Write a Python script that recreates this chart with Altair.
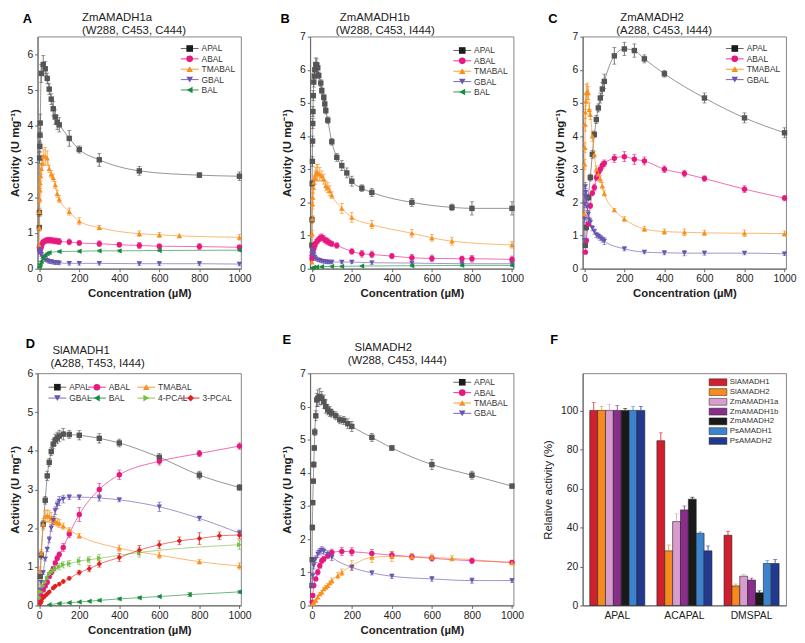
import altair as alt
import pandas as pd

FONT = "Liberation Sans"
XTICKS = [0, 200, 400, 600, 800, 1000]

COLORS = {"APAL": "#1c1c1c", "ABAL": "#e6197f", "TMABAL": "#f7901e", "GBAL": "#6a56b0",
          "BAL": "#178a3c", "4-PCAL": "#74c043", "3-PCAL": "#e0201e"}
LINECOL = {"APAL": "#555555", "ABAL": "#e6197f", "TMABAL": "#f7901e", "GBAL": "#6a56b0",
           "BAL": "#178a3c", "4-PCAL": "#74c043", "3-PCAL": "#e0201e"}
SHAPES = {"APAL": "square", "ABAL": "circle", "TMABAL": "triangle-up", "GBAL": "triangle-down",
          "BAL": "triangle-left", "4-PCAL": "triangle-right", "3-PCAL": "diamond"}

# ---------------- Panel A: ZmAMADH1a ----------------
A_APAL_x = [0.5, 1, 2, 3, 4, 5, 10, 20, 30, 40, 50, 60, 70, 80, 90, 100, 150, 200, 300, 500, 800, 1000]
A_APAL_y = [1.15, 1.57, 3.1, 3.43, 3.74, 4.08, 5.47, 5.72, 5.6, 5.33, 5.03, 4.75, 4.48, 4.25, 4.1, 4.03, 3.65, 3.34, 3.05, 2.74, 2.62, 2.59]
A_APAL_e = [0.05, 0.1, 0.15, 0.15, 0.2, 0.25, 0.25, 0.25, 0.2, 0.15, 0.15, 0.15, 0.2, 0.2, 0.2, 0.2, 0.22, 0.1, 0.18, 0.12, 0.07, 0.12]
A_TMABAL_x = [0.5, 1, 2, 3, 4, 5, 7.5, 10, 15, 20, 30, 40, 50, 60, 70, 80, 90, 100, 150, 200, 300, 500, 600, 700, 1000]
A_TMABAL_y = [0.65, 1.15, 1.6, 1.95, 2.2, 2.4, 2.6, 2.8, 2.95, 3.15, 3.15, 3.1, 2.8, 2.65, 2.55, 2.35, 2.1, 1.95, 1.6, 1.33, 1.15, 0.98, 0.95, 0.92, 0.88]
A_TMABAL_e = [0.05, 0.1, 0.1, 0.1, 0.1, 0.15, 0.15, 0.15, 0.2, 0.2, 0.25, 0.2, 0.1, 0.1, 0.1, 0.1, 0.1, 0.1, 0.1, 0.1, 0.06, 0.08, 0.07, 0.05, 0.08]
A_ABAL_x = [1, 2, 5, 10, 15, 20, 30, 40, 50, 60, 70, 80, 90, 100, 150, 200, 300, 400, 500, 600, 800, 1000]
A_ABAL_y = [0.6, 0.55, 0.5, 0.6, 0.7, 0.75, 0.78, 0.8, 0.8, 0.8, 0.78, 0.78, 0.77, 0.76, 0.75, 0.72, 0.7, 0.67, 0.65, 0.63, 0.62, 0.6]
A_ABAL_e = [0.05, 0.05, 0.05, 0.05, 0.08, 0.08, 0.08, 0.08, 0.08, 0.08, 0.08, 0.08, 0.08, 0.08, 0.08, 0.06, 0.08, 0.06, 0.08, 0.06, 0.08, 0.06]
A_GBAL_x = [1, 2, 5, 10, 15, 20, 30, 40, 50, 60, 70, 80, 90, 100, 150, 200, 300, 500, 600, 800, 1000]
A_GBAL_y = [0.45, 0.55, 0.5, 0.4, 0.33, 0.3, 0.25, 0.23, 0.2, 0.2, 0.18, 0.17, 0.17, 0.16, 0.15, 0.15, 0.15, 0.14, 0.14, 0.14, 0.13]
A_GBAL_e = [0.03, 0.05, 0.05, 0.05, 0.05, 0.05, 0.05, 0.05, 0.05, 0.05, 0.05, 0.05, 0.05, 0.05, 0.05, 0.05, 0.05, 0.05, 0.05, 0.06, 0.05]
A_BAL_x = [1, 5, 10, 20, 30, 40, 50, 100, 200, 300, 400, 600, 1000]
A_BAL_y = [0.05, 0.12, 0.2, 0.3, 0.38, 0.42, 0.45, 0.48, 0.49, 0.5, 0.5, 0.51, 0.52]
A_BAL_e = [0.01, 0.02, 0.02, 0.03, 0.03, 0.03, 0.03, 0.03, 0.03, 0.03, 0.03, 0.03, 0.03]

# ---------------- Panel B: ZmAMADH1b ----------------
B_APAL_x = [0.5, 1, 2, 3, 4, 5, 6, 7.5, 10, 12.5, 15, 20, 25, 30, 35, 45, 50, 60, 65, 70, 80, 100, 125, 150, 175, 200, 250, 300, 500, 700, 800, 1000]
B_APAL_y = [0.71, 1.48, 2.57, 3.24, 3.85, 4.38, 4.74, 5.22, 5.63, 5.81, 6.0, 6.16, 6.13, 6.06, 5.83, 5.6, 5.37, 5.17, 4.97, 4.77, 4.48, 3.83, 3.36, 3.11, 2.89, 2.64, 2.43, 2.3, 2.0, 1.85, 1.82, 1.82]
B_APAL_e = [0.05, 0.1, 0.1, 0.15, 0.15, 0.15, 0.15, 0.15, 0.15, 0.15, 0.2, 0.2, 0.2, 0.15, 0.1, 0.1, 0.1, 0.1, 0.1, 0.1, 0.1, 0.1, 0.12, 0.15, 0.15, 0.15, 0.1, 0.12, 0.12, 0.1, 0.2, 0.2]
B_TMABAL_x = [0.5, 1, 2, 3, 4, 5, 7.5, 10, 15, 20, 25, 30, 40, 50, 60, 70, 80, 90, 100, 150, 200, 300, 500, 600, 700, 1000]
B_TMABAL_y = [0.2, 0.55, 1.05, 1.5, 1.95, 2.15, 2.45, 2.6, 2.75, 2.85, 2.9, 2.9, 2.85, 2.8, 2.7, 2.5, 2.45, 2.35, 2.22, 1.82, 1.55, 1.33, 1.07, 0.93, 0.83, 0.72]
B_TMABAL_e = [0.05, 0.1, 0.1, 0.1, 0.15, 0.15, 0.2, 0.2, 0.2, 0.2, 0.25, 0.25, 0.2, 0.15, 0.15, 0.15, 0.15, 0.15, 0.1, 0.15, 0.15, 0.12, 0.12, 0.1, 0.12, 0.1]
B_ABAL_x = [1, 2, 5, 10, 15, 20, 30, 40, 50, 60, 70, 80, 90, 100, 125, 200, 250, 300, 400, 500, 600, 750, 800, 1000]
B_ABAL_y = [0.3, 0.4, 0.5, 0.6, 0.7, 0.78, 0.85, 0.92, 0.95, 0.9, 0.85, 0.82, 0.78, 0.75, 0.7, 0.52, 0.45, 0.43, 0.38, 0.33, 0.31, 0.3, 0.3, 0.28]
B_ABAL_e = [0.05, 0.05, 0.05, 0.08, 0.08, 0.1, 0.1, 0.1, 0.1, 0.1, 0.1, 0.1, 0.08, 0.08, 0.08, 0.08, 0.1, 0.1, 0.08, 0.1, 0.1, 0.08, 0.1, 0.1]
B_GBAL_x = [1, 2, 5, 10, 15, 20, 30, 40, 50, 60, 70, 80, 90, 100, 150, 200, 300, 500, 750, 1000]
B_GBAL_y = [0.45, 0.55, 0.5, 0.42, 0.35, 0.3, 0.27, 0.25, 0.23, 0.22, 0.21, 0.2, 0.2, 0.2, 0.2, 0.2, 0.18, 0.17, 0.15, 0.15]
B_GBAL_e = [0.05, 0.05, 0.05, 0.05, 0.05, 0.05, 0.05, 0.05, 0.05, 0.05, 0.05, 0.05, 0.05, 0.05, 0.05, 0.05, 0.05, 0.05, 0.05, 0.05]
B_BAL_x = [1, 10, 25, 50, 100, 150, 250, 500, 750, 1000]
B_BAL_y = [0.02, 0.04, 0.05, 0.06, 0.07, 0.07, 0.08, 0.09, 0.1, 0.1]
B_BAL_e = [0.01, 0.01, 0.02, 0.02, 0.02, 0.02, 0.02, 0.03, 0.03, 0.03]

# ---------------- Panel C: ZmAMADH2 ----------------
C_APAL_x = [5, 10, 20, 30, 40, 50, 60, 70, 80, 90, 100, 150, 200, 250, 300, 400, 600, 800, 1000]
C_APAL_y = [0.7, 1.25, 2.15, 2.75, 3.45, 4.05, 4.5, 4.85, 5.15, 5.42, 5.65, 6.42, 6.63, 6.58, 6.33, 5.88, 5.15, 4.55, 4.1]
C_APAL_e = [0.05, 0.1, 0.1, 0.1, 0.12, 0.1, 0.12, 0.12, 0.15, 0.2, 0.22, 0.25, 0.2, 0.2, 0.12, 0.1, 0.15, 0.15, 0.15]
C_ABAL_x = [5, 10, 20, 30, 40, 50, 60, 70, 80, 90, 100, 150, 200, 250, 300, 400, 500, 600, 800, 1000]
C_ABAL_y = [0.5, 0.85, 1.35, 1.9, 2.28, 2.45, 2.75, 2.9, 3.0, 3.12, 3.18, 3.33, 3.38, 3.3, 3.25, 3.0, 2.87, 2.72, 2.4, 2.13]
C_ABAL_e = [0.03, 0.05, 0.05, 0.08, 0.08, 0.1, 0.1, 0.1, 0.1, 0.1, 0.1, 0.12, 0.15, 0.15, 0.12, 0.1, 0.1, 0.08, 0.1, 0.08]
C_TMABAL_x = [1, 2, 3, 4, 5, 7.5, 10, 15, 20, 25, 30, 40, 50, 60, 70, 80, 90, 100, 150, 200, 300, 400, 500, 600, 800, 1000]
C_TMABAL_y = [1.65, 3.15, 3.65, 4.35, 4.72, 5.05, 5.3, 5.35, 5.3, 4.8, 4.65, 4.0, 3.45, 3.0, 2.85, 2.7, 2.5, 2.27, 1.77, 1.5, 1.2, 1.12, 1.1, 1.08, 1.07, 1.06]
C_TMABAL_e = [0.1, 0.15, 0.15, 0.2, 0.2, 0.25, 0.25, 0.25, 0.2, 0.2, 0.15, 0.15, 0.1, 0.1, 0.1, 0.1, 0.1, 0.08, 0.05, 0.07, 0.08, 0.08, 0.1, 0.08, 0.1, 0.08]
C_GBAL_x = [1, 2, 3, 4, 5, 7.5, 10, 15, 20, 25, 30, 40, 50, 60, 70, 80, 90, 100, 200, 300, 400, 500, 600, 800, 1000]
C_GBAL_y = [0.85, 1.5, 1.95, 2.2, 2.48, 2.3, 2.1, 1.85, 1.65, 1.45, 1.4, 1.22, 1.12, 1.02, 0.98, 0.93, 0.88, 0.83, 0.6, 0.5, 0.48, 0.47, 0.47, 0.47, 0.45]
C_GBAL_e = [0.05, 0.1, 0.1, 0.12, 0.12, 0.12, 0.1, 0.1, 0.1, 0.1, 0.1, 0.08, 0.08, 0.08, 0.08, 0.08, 0.08, 0.1, 0.06, 0.05, 0.06, 0.08, 0.06, 0.05, 0.05]

# ---------------- Panel D: SlAMADH1 ----------------
D_APAL_x = [5, 10, 20, 30, 40, 50, 60, 70, 80, 90, 100, 120, 150, 200, 300, 400, 600, 800, 1000]
D_APAL_y = [0.75, 1.3, 2.1, 2.72, 3.35, 3.7, 3.98, 4.17, 4.28, 4.33, 4.38, 4.43, 4.42, 4.4, 4.32, 4.2, 3.83, 3.37, 3.05]
D_APAL_e = [0.05, 0.1, 0.1, 0.1, 0.12, 0.1, 0.1, 0.12, 0.15, 0.15, 0.15, 0.15, 0.1, 0.12, 0.12, 0.1, 0.1, 0.1, 0.08]
D_ABAL_x = [5, 10, 20, 30, 40, 50, 60, 70, 80, 90, 100, 120, 150, 200, 300, 400, 600, 800, 1000]
D_ABAL_y = [0.15, 0.25, 0.4, 0.5, 0.6, 0.75, 0.85, 0.95, 1.1, 1.22, 1.32, 1.5, 1.85, 2.35, 3.0, 3.38, 3.73, 3.93, 4.12]
D_ABAL_e = [0.02, 0.03, 0.03, 0.04, 0.05, 0.05, 0.05, 0.05, 0.05, 0.06, 0.06, 0.1, 0.1, 0.18, 0.15, 0.12, 0.1, 0.08, 0.08]
D_TMABAL_x = [2, 5, 10, 20, 30, 40, 50, 60, 70, 80, 90, 100, 120, 150, 200, 400, 600, 800, 1000]
D_TMABAL_y = [0.4, 0.9, 1.35, 2.1, 2.3, 2.32, 2.3, 2.25, 2.2, 2.18, 2.15, 2.12, 2.05, 1.95, 1.8, 1.48, 1.3, 1.13, 1.02]
D_TMABAL_e = [0.05, 0.1, 0.1, 0.15, 0.15, 0.15, 0.15, 0.15, 0.1, 0.1, 0.1, 0.1, 0.08, 0.06, 0.06, 0.08, 0.08, 0.06, 0.08]
D_GBAL_x = [5, 10, 20, 30, 40, 50, 60, 70, 80, 90, 100, 120, 150, 200, 300, 400, 600, 800, 1000]
D_GBAL_y = [0.4, 0.6, 0.85, 1.2, 1.45, 1.7, 2.0, 2.2, 2.45, 2.6, 2.7, 2.75, 2.8, 2.8, 2.78, 2.73, 2.55, 2.25, 1.87]
D_GBAL_e = [0.03, 0.05, 0.05, 0.05, 0.06, 0.08, 0.08, 0.1, 0.1, 0.1, 0.12, 0.1, 0.06, 0.06, 0.08, 0.05, 0.12, 0.06, 0.08]
D_BAL_x = [50, 100, 150, 200, 250, 300, 400, 500, 600, 750, 1000]
D_BAL_y = [0.02, 0.05, 0.07, 0.09, 0.11, 0.13, 0.17, 0.2, 0.23, 0.28, 0.35]
D_BAL_e = [0.01, 0.02, 0.02, 0.02, 0.02, 0.03, 0.03, 0.03, 0.03, 0.05, 0.04]
D_4PCAL_x = [5, 10, 20, 30, 40, 50, 60, 70, 80, 100, 120, 150, 200, 250, 300, 500, 1000]
D_4PCAL_y = [0.2, 0.35, 0.5, 0.6, 0.7, 0.8, 0.85, 0.9, 0.95, 1.0, 1.05, 1.08, 1.15, 1.18, 1.22, 1.37, 1.57]
D_4PCAL_e = [0.02, 0.03, 0.04, 0.04, 0.05, 0.05, 0.05, 0.06, 0.06, 0.08, 0.08, 0.08, 0.1, 0.08, 0.1, 0.12, 0.12]
D_3PCAL_x = [5, 10, 20, 30, 40, 50, 70, 80, 100, 120, 150, 200, 250, 300, 400, 500, 600, 700, 800, 900, 1000]
D_3PCAL_y = [0.05, 0.1, 0.2, 0.25, 0.3, 0.35, 0.45, 0.5, 0.55, 0.62, 0.7, 0.85, 0.95, 1.07, 1.24, 1.43, 1.57, 1.67, 1.73, 1.8, 1.82]
D_3PCAL_e = [0.01, 0.02, 0.02, 0.02, 0.03, 0.03, 0.03, 0.03, 0.04, 0.04, 0.04, 0.06, 0.08, 0.08, 0.1, 0.12, 0.1, 0.1, 0.15, 0.1, 0.1]

# ---------------- Panel E: SlAMADH2 ----------------
E_APAL_x = [1, 2, 3, 5, 7.5, 10, 12.5, 15, 20, 25, 30, 40, 50, 60, 70, 80, 90, 100, 120, 140, 160, 180, 200, 300, 400, 600, 800, 1000]
E_APAL_y = [0.6, 1.38, 2.35, 3.1, 3.75, 4.25, 4.75, 5.23, 5.72, 6.2, 6.25, 6.3, 6.25, 6.15, 6.0, 5.9, 5.85, 5.8, 5.72, 5.6, 5.58, 5.48, 5.4, 5.07, 4.75, 4.25, 3.93, 3.6]
E_APAL_e = [0.05, 0.05, 0.08, 0.05, 0.05, 0.08, 0.08, 0.1, 0.15, 0.2, 0.25, 0.25, 0.2, 0.2, 0.2, 0.15, 0.15, 0.12, 0.12, 0.12, 0.12, 0.15, 0.15, 0.12, 0.08, 0.15, 0.12, 0.06]
E_ABAL_x = [2, 5, 10, 20, 30, 40, 50, 60, 80, 100, 150, 200, 300, 400, 500, 600, 800, 1000]
E_ABAL_y = [0.1, 0.3, 0.6, 0.8, 1.0, 1.2, 1.35, 1.4, 1.5, 1.6, 1.63, 1.62, 1.57, 1.52, 1.47, 1.42, 1.35, 1.3]
E_ABAL_e = [0.03, 0.05, 0.05, 0.05, 0.08, 0.08, 0.08, 0.08, 0.08, 0.1, 0.12, 0.12, 0.12, 0.1, 0.08, 0.08, 0.08, 0.06]
E_TMABAL_x = [5, 10, 20, 30, 40, 50, 60, 70, 80, 90, 100, 130, 150, 200, 300, 400, 500, 600, 700, 1000]
E_TMABAL_y = [0.05, 0.1, 0.15, 0.25, 0.35, 0.4, 0.5, 0.55, 0.6, 0.68, 0.75, 0.9, 1.0, 1.2, 1.45, 1.48, 1.47, 1.45, 1.42, 1.28]
E_TMABAL_e = [0.01, 0.02, 0.03, 0.04, 0.04, 0.05, 0.05, 0.05, 0.06, 0.06, 0.08, 0.1, 0.1, 0.15, 0.15, 0.15, 0.1, 0.1, 0.08, 0.05]
E_GBAL_x = [2, 5, 10, 20, 30, 40, 50, 60, 80, 100, 200, 300, 400, 600, 800, 1000]
E_GBAL_y = [0.6, 0.9, 1.2, 1.4, 1.55, 1.62, 1.67, 1.63, 1.55, 1.45, 1.15, 0.98, 0.88, 0.8, 0.75, 0.75]
E_GBAL_e = [0.05, 0.08, 0.1, 0.1, 0.1, 0.1, 0.1, 0.1, 0.1, 0.1, 0.08, 0.06, 0.07, 0.07, 0.08, 0.06]

# ---------------- Panel F: relative activity ----------------
F_SUBS = ["APAL", "ACAPAL", "DMSPAL"]
F_ENZ = ["SlAMADH1", "SlAMADH2", "ZmAMADH1a", "ZmAMADH1b", "ZmAMADH2", "PsAMADH1", "PsAMADH2"]
F_ENZ_COLORS = ["#d0202e", "#f58a1f", "#d89ccf", "#8b2d8b", "#1a1a1a", "#3b83cc", "#23388f"]
F_APAL = [100, 100, 100, 100, 100, 100, 100]
F_APAL_err = [4, 2, 3, 2.5, 1, 2, 2]
F_ACAPAL = [84.5, 28, 43, 49, 54.5, 37, 28]
F_ACAPAL_err = [4, 3, 4, 2, 1, 0.7, 2.5]
F_DMSPAL = [36, 10, 15, 13, 6.5, 21.5, 21.5]
F_DMSPAL_err = [2, 1, 1, 1, 1, 1.5, 2]

W, H = 206, 235
DUMMY = alt.Data(values=[{"k": 0}])


def txt(s, x, y, size=11.5, weight="normal", color="#222", align="left"):
    return alt.Chart(DUMMY).mark_text(text=s, fontSize=size, fontWeight=weight, color=color,
                                      align=align, baseline="top", font=FONT).encode(
        x=alt.value(x), y=alt.value(y))


def curve_panel(series, ymax, yticks, titles, legend_pos):
    rows = []
    for name, (xs, ys, es) in series.items():
        assert len(xs) == len(ys) == len(es), name
        for x, y, e in zip(xs, ys, es):
            rows.append({"series": name, "conc": x, "act": y, "lo": y - e, "hi": y + e})
    df = pd.DataFrame(rows)
    names = list(series.keys())
    cscale = alt.Scale(domain=names, range=[COLORS[n] for n in names])
    lscale = alt.Scale(domain=names, range=[LINECOL[n] for n in names])
    sscale = alt.Scale(domain=names, range=[SHAPES[n] for n in names])
    xenc = alt.X("conc:Q", scale=alt.Scale(domain=[-8, 1008], nice=False, zero=False),
                 axis=alt.Axis(values=XTICKS, format="d", title="Concentration (µM)",
                               labelFlush=False, titlePadding=4))

    def yenc(f):
        return alt.Y(f"{f}:Q", scale=alt.Scale(domain=[0, ymax], nice=False),
                     axis=alt.Axis(values=yticks, title="Activity (U mg⁻¹)", titlePadding=7))

    base = alt.Chart(df)
    lines = base.mark_line(interpolate="monotone", strokeWidth=0.9, opacity=0.7).encode(
        x=xenc, y=yenc("act"), color=alt.Color("series:N", scale=lscale, legend=None),
        detail="series:N")
    err = base.mark_errorbar(ticks={"size": 4}, thickness=0.8).encode(
        x=xenc, y=yenc("lo"), y2="hi:Q",
        color=alt.Color("series:N", scale=cscale, legend=None))
    pts = base.mark_point(filled=True, size=30, opacity=1).encode(
        x=xenc, y=yenc("act"), color=alt.Color("series:N", scale=cscale, legend=None),
        shape=alt.Shape("series:N", scale=sscale, legend=None))
    layers = [lines, err, pts]
    for n, mx, my in legend_pos:
        layers.append(alt.Chart(DUMMY).mark_rule(color=LINECOL[n], strokeWidth=0.9).encode(
            x=alt.value(mx - 9), x2=alt.value(mx + 9), y=alt.value(my)))
        layers.append(alt.Chart(DUMMY).mark_point(shape=SHAPES[n], filled=True, color=COLORS[n],
                                                  size=45, opacity=1).encode(
            x=alt.value(mx), y=alt.value(my)))
        layers.append(alt.Chart(DUMMY).mark_text(text=n, fontSize=8.5, color="#333", align="left",
                                                 baseline="middle", font=FONT).encode(
            x=alt.value(mx + 12), y=alt.value(my)))
    layers += titles
    return alt.layer(*layers).properties(width=W, height=H)


def col_legend(names, top, step=10.5):
    return [(n, W - 52, top + i * step) for i, n in enumerate(names)]


panelA = curve_panel(
    {"APAL": (A_APAL_x, A_APAL_y, A_APAL_e), "ABAL": (A_ABAL_x, A_ABAL_y, A_ABAL_e),
     "TMABAL": (A_TMABAL_x, A_TMABAL_y, A_TMABAL_e), "GBAL": (A_GBAL_x, A_GBAL_y, A_GBAL_e),
     "BAL": (A_BAL_x, A_BAL_y, A_BAL_e)},
    6.5, [0, 1, 2, 3, 4, 5, 6],
    [txt("A", -15, -24, 13, "bold", "#000"), txt("ZmAMADH1a", 45, -24.5),
     txt("(W288, C453, C444)", 45, -11.5)],
    col_legend(["APAL", "ABAL", "TMABAL", "GBAL", "BAL"], 12))

panelB = curve_panel(
    {"APAL": (B_APAL_x, B_APAL_y, B_APAL_e), "ABAL": (B_ABAL_x, B_ABAL_y, B_ABAL_e),
     "TMABAL": (B_TMABAL_x, B_TMABAL_y, B_TMABAL_e), "GBAL": (B_GBAL_x, B_GBAL_y, B_GBAL_e),
     "BAL": (B_BAL_x, B_BAL_y, B_BAL_e)},
    7, [0, 1, 2, 3, 4, 5, 6, 7],
    [txt("B", -30, -24, 13, "bold", "#000"), txt("ZmAMADH1b", 30, -24.5),
     txt("(W288, C453, I444)", 26, -11.5)],
    col_legend(["APAL", "ABAL", "TMABAL", "GBAL", "BAL"], 14))

panelC = curve_panel(
    {"APAL": (C_APAL_x, C_APAL_y, C_APAL_e), "ABAL": (C_ABAL_x, C_ABAL_y, C_ABAL_e),
     "TMABAL": (C_TMABAL_x, C_TMABAL_y, C_TMABAL_e), "GBAL": (C_GBAL_x, C_GBAL_y, C_GBAL_e)},
    7, [0, 1, 2, 3, 4, 5, 6, 7],
    [txt("C", -35, -24, 13, "bold", "#000"), txt("ZmAMADH2", 38, -24.5),
     txt("(A288, C453, I444)", 34, -11.5)],
    col_legend(["APAL", "ABAL", "TMABAL", "GBAL"], 12))

D_COLS = [20, 60, 110, 155]
panelD = curve_panel(
    {"APAL": (D_APAL_x, D_APAL_y, D_APAL_e), "ABAL": (D_ABAL_x, D_ABAL_y, D_ABAL_e),
     "TMABAL": (D_TMABAL_x, D_TMABAL_y, D_TMABAL_e), "GBAL": (D_GBAL_x, D_GBAL_y, D_GBAL_e),
     "BAL": (D_BAL_x, D_BAL_y, D_BAL_e), "4-PCAL": (D_4PCAL_x, D_4PCAL_y, D_4PCAL_e),
     "3-PCAL": (D_3PCAL_x, D_3PCAL_y, D_3PCAL_e)},
    6, [0, 1, 2, 3, 4, 5, 6],
    [txt("D", -12, -36, 13, "bold", "#000"), txt("SlAMADH1", 15, -28.5),
     txt("(A288, T453, I444)", 13, -15)],
    [("APAL", D_COLS[0], 14), ("ABAL", D_COLS[1], 14), ("TMABAL", D_COLS[2], 14),
     ("GBAL", D_COLS[0], 25), ("BAL", D_COLS[1], 25), ("4-PCAL", D_COLS[2], 25),
     ("3-PCAL", D_COLS[3], 25)])

panelE = curve_panel(
    {"APAL": (E_APAL_x, E_APAL_y, E_APAL_e), "ABAL": (E_ABAL_x, E_ABAL_y, E_ABAL_e),
     "TMABAL": (E_TMABAL_x, E_TMABAL_y, E_TMABAL_e), "GBAL": (E_GBAL_x, E_GBAL_y, E_GBAL_e)},
    7, [0, 1, 2, 3, 4, 5, 6, 7],
    [txt("E", -28, -40, 13, "bold", "#000"), txt("SlAMADH2", 45, -31.5),
     txt("(W288, C453, I444)", 38, -18)],
    col_legend(["APAL", "ABAL", "TMABAL", "GBAL"], 9))

# ---- panel F ----
frows = []
for sub, vals, errs in [("APAL", F_APAL, F_APAL_err), ("ACAPAL", F_ACAPAL, F_ACAPAL_err),
                        ("DMSPAL", F_DMSPAL, F_DMSPAL_err)]:
    for enz, v, e in zip(F_ENZ, vals, errs):
        frows.append({"sub": sub, "enz": enz, "val": v, "hi": v + e})
dfF = pd.DataFrame(frows)
fx = alt.X("sub:N", sort=F_SUBS, scale=alt.Scale(paddingInner=0.18, paddingOuter=0.105),
           axis=alt.Axis(title=None, labelAngle=0, ticks=False, labelPadding=5))
fxo = alt.XOffset("enz:N", sort=F_ENZ, scale=alt.Scale(paddingInner=0, paddingOuter=0))
fcol = alt.Color("enz:N", scale=alt.Scale(domain=F_ENZ, range=F_ENZ_COLORS), legend=None)


def fy(f):
    return alt.Y(f"{f}:Q", scale=alt.Scale(domain=[0, 119], nice=False),
                 axis=alt.Axis(values=[0, 20, 40, 60, 80, 100], title="Relative activity (%)",
                               titleFontWeight="normal", titlePadding=7))


fbase = alt.Chart(dfF)
fbars = fbase.mark_bar(stroke="#222", strokeWidth=0.6).encode(x=fx, xOffset=fxo, y=fy("val"), color=fcol)
frule = fbase.mark_rule(strokeWidth=0.8).encode(x=fx, xOffset=fxo, y=fy("val"), y2="hi:Q", color=fcol)
fcap = fbase.mark_tick(orient="horizontal", size=4, thickness=0.8).encode(
    x=fx, xOffset=fxo, y=fy("hi"), color=fcol)
flayers = [fbars, frule, fcap]
for i, (enz, c) in enumerate(zip(F_ENZ, F_ENZ_COLORS)):
    yy = 9 + i * 9.9
    flayers.append(alt.Chart(DUMMY).mark_rect(color=c, stroke="#222", strokeWidth=0.5).encode(
        x=alt.value(W - 78), x2=alt.value(W - 60), y=alt.value(yy - 3.5), y2=alt.value(yy + 3.5)))
    flayers.append(alt.Chart(DUMMY).mark_text(text=enz, fontSize=8, color="#333", align="left",
                                              baseline="middle", font=FONT).encode(
        x=alt.value(W - 57), y=alt.value(yy)))
flayers.append(txt("F", -33, -40, 13, "bold", "#000"))
panelF = alt.layer(*flayers).properties(width=W, height=H)

chart = alt.concat(panelA, panelB, panelC, panelD, panelE, panelF, columns=3,
                   spacing=alt.RowColnumber(row=106, column=70), bounds="flush").properties(
    padding=0).resolve_scale(x="independent", y="independent", color="independent",
                             shape="independent").configure(font=FONT).configure_view(
    stroke="#666", strokeWidth=0.8).configure_axis(
    grid=False, domainColor="#666", tickColor="#666", tickSize=3, labelPadding=2,
    labelFont=FONT, titleFont=FONT, labelFontSize=10.5, titleFontSize=11.5,
    titleFontWeight="bold", labelColor="#222", titleColor="#222")

chart.save("out.html", embed_options={"renderer": "svg", "actions": False})
